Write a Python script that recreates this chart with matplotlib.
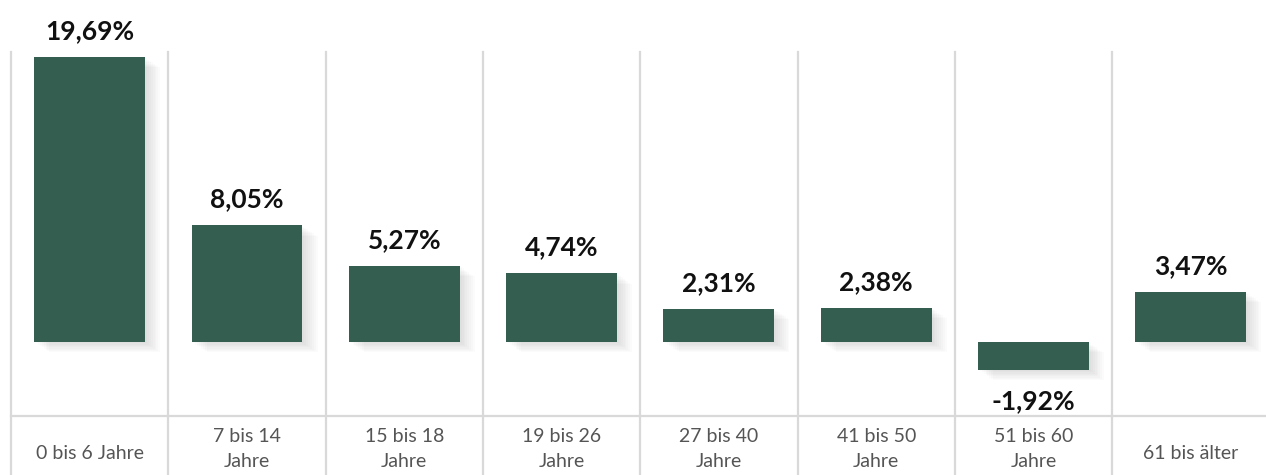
import matplotlib
matplotlib.use("Agg")
import matplotlib.pyplot as plt
from matplotlib.patches import Rectangle

# Altersgruppen und Veränderung in Prozent
categories = ["0 bis 6 Jahre", "7 bis 14\nJahre", "15 bis 18\nJahre", "19 bis 26\nJahre",
              "27 bis 40\nJahre", "41 bis 50\nJahre", "51 bis 60\nJahre", "61 bis älter"]
values = [19.69, 8.05, 5.27, 4.74, 2.31, 2.38, -1.92, 3.47]

bar_color = "#335e50"
grid_color = "#d9d9d9"

plt.rcParams['font.family'] = ['Lato', 'DejaVu Sans']

fig = plt.figure(figsize=(12.66, 4.75), dpi=100)
ax = fig.add_axes([0, 0, 1, 1])
ax.set_xlim(-0.570, 7.478)
ax.set_ylim(-9.19, 23.63)
ax.axis('off')

x = list(range(len(values)))
width = 0.705

# soft drop shadow behind the bars
for i, v in zip(x, values):
    lo, hi = min(0, v), max(0, v)
    for k in range(1, 9):
        dx = 0.012 * k
        dy = 0.09 * k
        ax.add_patch(Rectangle((i - width / 2 + dx, lo - dy), width, hi - lo,
                               facecolor='black', alpha=0.015, lw=0, zorder=1))

ax.bar(x, values, width=width, color=bar_color, zorder=3)

# grid: vertical separators and the category baseline
axis_y = -5.11
for k in range(len(values)):
    ax.plot([k - 0.5, k - 0.5], [20.04, -12], color=grid_color, lw=1.6, zorder=0)
ax.plot([-0.5, 8], [axis_y, axis_y], color=grid_color, lw=1.6, zorder=0)

# value labels
for i, v in zip(x, values):
    label = f"{v:.2f}".replace('.', ',') + '%'
    if v >= 0:
        ax.annotate(label, (i, v), xytext=(0, 10), textcoords='offset points',
                    ha='center', va='bottom', fontsize=19, fontweight='bold', color='#111111')
    else:
        ax.annotate(label, (i, v), xytext=(0, -14), textcoords='offset points',
                    ha='center', va='top', fontsize=19, fontweight='bold', color='#111111')

# category labels below the baseline
for i, cat in zip(x, categories):
    if '\n' in cat:
        ax.annotate(cat, (i, axis_y), xytext=(0, -9), textcoords='offset points',
                    ha='center', va='top', fontsize=14, color='#555555', linespacing=1.55)
    else:
        ax.annotate(cat, (i, axis_y), xytext=(0, -27), textcoords='offset points',
                    ha='center', va='center', fontsize=14, color='#555555')

fig.savefig("out.png", dpi=100)
